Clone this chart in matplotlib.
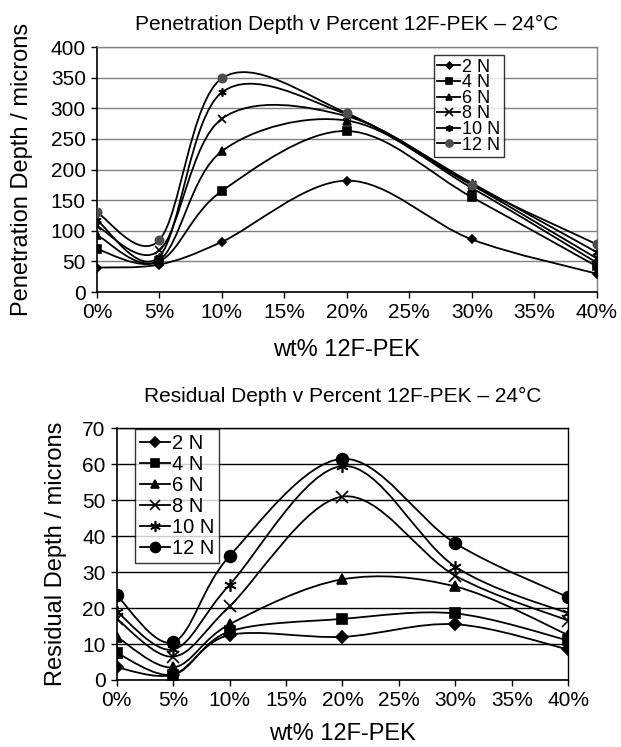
import matplotlib
matplotlib.use("Agg")
import matplotlib.pyplot as plt
from matplotlib.path import Path
from matplotlib.patches import PathPatch
from matplotlib.lines import Line2D
from matplotlib.ticker import MultipleLocator, FuncFormatter

plt.rcParams['font.family'] = ['Liberation Sans', 'DejaVu Sans']

# datos
wt = [0, 5, 10, 20, 30, 40]
cargas = ['2 N', '4 N', '6 N', '8 N', '10 N', '12 N']

pen_2N = [40, 45, 82, 182, 86, 30]
pen_4N = [70, 50, 165, 263, 155, 42]
pen_6N = [93, 52, 230, 280, 170, 48]
pen_8N = [108, 68, 283, 287, 175, 55]
pen_10N = [117, 58, 326, 290, 178, 65]
pen_12N = [130, 85, 349, 292, 175, 78]

res_2N = [3.5, 1.5, 12.5, 12, 15.5, 8.5]
res_4N = [7.5, 1.5, 13.5, 17, 18.5, 11]
res_6N = [12, 3.5, 15.5, 28, 26, 12.5]
res_8N = [17, 6.5, 20.5, 51, 29, 16.5]
res_10N = [19, 8.5, 26.5, 59.5, 31.5, 18.5]
res_12N = [23.5, 10.5, 34.5, 61.5, 38, 23]

marcadores = ['D', 's', '^', 'x', (6, 2, 0), 'o']


def curva_suave(x, y):
    # linea suavizada tipo Excel (Bezier con tangentes de Catmull-Rom)
    n = len(x)
    verts = [(x[0], y[0])]
    codes = [Path.MOVETO]
    for i in range(n - 1):
        a = i - 1 if i > 0 else i
        b = i + 2 if i + 2 < n else i + 1
        c1 = (x[i] + (x[i + 1] - x[a]) / 6, y[i] + (y[i + 1] - y[a]) / 6)
        c2 = (x[i + 1] - (x[b] - x[i]) / 6, y[i + 1] - (y[b] - y[i]) / 6)
        verts += [c1, c2, (x[i + 1], y[i + 1])]
        codes += [Path.CURVE4] * 3
    return Path(verts, codes)


def grafica(ax, series, ymax, ystep, titulo, ylabel, tam, colores, color_grid,
            color_borde, pad_y, pad_x, pad_t):
    handles = []
    for datos, m, ms, c in zip(series, marcadores, tam, colores):
        ax.add_patch(PathPatch(curva_suave(wt, datos), fill=False,
                               edgecolor='black', lw=1.3, zorder=3))
        ax.plot(wt, datos, ls='none', marker=m, ms=ms, color=c,
                mec=c, mew=1.2, zorder=4)
        handles.append(Line2D([], [], color='black', lw=1.3, marker=m, ms=ms * 0.85,
                              mfc=c, mec=c, mew=1.2))
    ax.set_xlim(0, 40)
    ax.set_ylim(0, ymax)
    ax.xaxis.set_major_locator(MultipleLocator(5))
    ax.yaxis.set_major_locator(MultipleLocator(ystep))
    ax.xaxis.set_major_formatter(FuncFormatter(lambda v, p: '%d%%' % v))
    ax.grid(axis='y', color=color_grid, lw=1.0)
    ax.set_axisbelow(True)
    ax.tick_params(direction='out', length=4, width=1, labelsize=15, pad=4)
    for s in ['left', 'bottom']:
        ax.spines[s].set_color('black')
        ax.spines[s].set_linewidth(1.2)
    for s in ['top', 'right']:
        ax.spines[s].set_color(color_borde)
        ax.spines[s].set_linewidth(1.0)
    ax.set_title(titulo, fontsize=15, pad=pad_t)
    ax.set_xlabel('wt% 12F-PEK', fontsize=17, labelpad=pad_x)
    ax.set_ylabel(ylabel, fontsize=17, labelpad=pad_y)
    return handles


fig = plt.figure(figsize=(6.21, 7.47), dpi=100)

ax1 = fig.add_axes([0.156, 0.609, 0.805, 0.328])
h1 = grafica(ax1, [pen_2N, pen_4N, pen_6N, pen_8N, pen_10N, pen_12N], 400, 50,
             'Penetration Depth v Percent 12F-PEK – 24°C',
             'Penetration Depth / microns', [4, 5.5, 5.5, 6, 6, 6],
             ['black'] * 5 + ['#4d4d4d'], '#808080', '#808080', 13, 12, 12)
leg1 = ax1.legend(h1, cargas, loc='upper left', bbox_to_anchor=(0.674, 0.967),
                  fontsize=13, frameon=True, fancybox=False, edgecolor='black',
                  labelspacing=-0.08, handlelength=1.25, handletextpad=0.1,
                  borderpad=0.2, borderaxespad=0)
leg1.get_frame().set_linewidth(1.0)

ax2 = fig.add_axes([0.188, 0.0897, 0.727, 0.337])
h2 = grafica(ax2, [res_2N, res_4N, res_6N, res_8N, res_10N, res_12N], 70, 10,
             'Residual Depth v Percent 12F-PEK – 24°C',
             'Residual Depth / microns', [6, 7.5, 7.5, 9, 9, 8.5],
             ['black'] * 6, 'black', 'black', 11, 9, 19)
leg2 = ax2.legend(h2, cargas, loc='upper left', bbox_to_anchor=(0.04, 0.996),
                  fontsize=14.5, frameon=True, fancybox=False, edgecolor='black',
                  labelspacing=0.1, handlelength=1.5, handletextpad=0.1,
                  borderpad=0.25, borderaxespad=0)
leg2.get_frame().set_linewidth(1.0)

fig.savefig('out.png', dpi=100)
